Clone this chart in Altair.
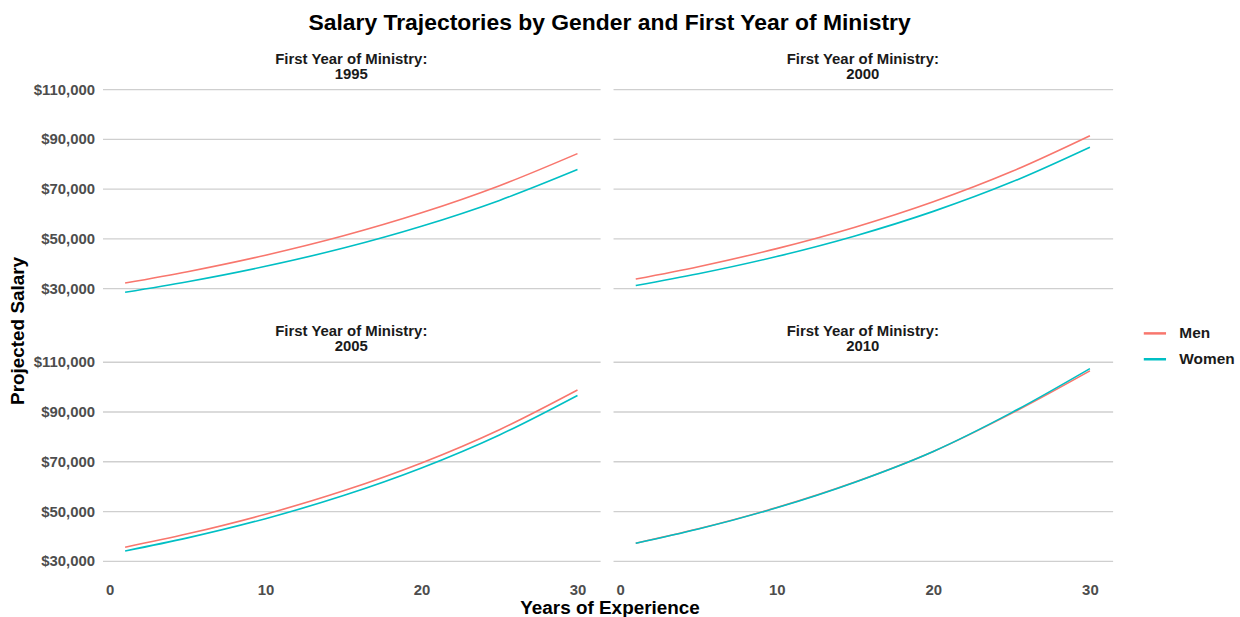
import altair as alt
import pandas as pd

years = [1, 5, 10, 15, 20, 25, 30]
cohorts = ["1995", "2000", "2005", "2010"]
genders = ["Men", "Women"]

men_1995 = [32100, 36650, 43270, 51070, 60300, 71200, 84100]
women_1995 = [28400, 32630, 38820, 46160, 54920, 65310, 77700]
men_2000 = [33700, 38670, 45920, 54530, 64750, 76890, 91300]
women_2000 = [31100, 35820, 42750, 51020, 60890, 72660, 86700]
men_2005 = [35500, 40880, 48760, 58160, 69370, 82750, 98700]
women_2005 = [34000, 39260, 46990, 56260, 67340, 80610, 96500]
men_2010 = [37100, 42900, 51450, 61700, 73990, 89300, 106400]
women_2010 = [37100, 42800, 51350, 61650, 74000, 89600, 107300]

y_ticks = [30000, 50000, 70000, 90000, 110000]
x_ticks = [0, 10, 20, 30]

series = {
    ("1995", "Men"): men_1995, ("1995", "Women"): women_1995,
    ("2000", "Men"): men_2000, ("2000", "Women"): women_2000,
    ("2005", "Men"): men_2005, ("2005", "Women"): women_2005,
    ("2010", "Men"): men_2010, ("2010", "Women"): women_2010,
}
rows = []
for (c, g), vals in series.items():
    for yr, v in zip(years, vals):
        rows.append({"cohort": c, "gender": g, "year": yr, "salary": v})
df = pd.DataFrame(rows)

FONT = "Liberation Sans"
LABEL_GRAY = "#4d4d4d"
H = 217


def panel(cohort, show_y, show_x, width, title_offset):
    if show_x:
        xaxis = alt.Axis(values=x_ticks, grid=False, format="d", title=None)
    else:
        xaxis = None
    if show_y:
        yaxis = alt.Axis(values=y_ticks, format="$,.0f", grid=True, title=None)
    else:
        yaxis = alt.Axis(values=y_ticks, grid=True, labels=False, title=None)
    return alt.Chart(df).transform_filter(
        alt.datum.cohort == cohort
    ).mark_line(strokeWidth=1.6, interpolate="monotone").encode(
        x=alt.X("year:Q", scale=alt.Scale(domain=[-0.45, 31.45], nice=False, zero=False),
                axis=xaxis),
        y=alt.Y("salary:Q", scale=alt.Scale(domain=[24455, 111245], nice=False, zero=False),
                axis=yaxis),
        color=alt.Color("gender:N", title=None,
                        scale=alt.Scale(domain=genders, range=["#F8766D", "#00BFC4"]),
                        legend=alt.Legend(symbolType="stroke", symbolStrokeWidth=2.5,
                                          symbolSize=500, labelFontSize=15.5,
                                          labelFontWeight="bold", labelColor="#1a1a1a",
                                          labelFont=FONT, rowPadding=5, labelOffset=12,
                                          orient="none", legendX=1140, legendY=236)),
    ).properties(
        width=width, height=H,
        title=alt.Title(["First Year of Ministry:", cohort], fontSize=15, fontWeight="bold",
                        font=FONT, color="#1a1a1a", lineHeight=15, offset=title_offset,
                        anchor="middle"),
    )


ytitle = alt.Chart(pd.DataFrame({"t": ["Projected Salary"]})).mark_text(
    angle=270, font=FONT, fontSize=19, fontWeight="bold", color="#000000",
    align="center", baseline="middle",
).encode(text="t:N", x=alt.value(10), y=alt.value(246)).properties(width=20, height=500)

xtitle = alt.Chart(pd.DataFrame({"t": ["Years of Experience"]})).mark_text(
    font=FONT, fontSize=19, fontWeight="bold", color="#000000",
    align="center", baseline="middle",
).encode(text="t:N", x=alt.value(510), y=alt.value(9)).properties(width=1000, height=18)

row1 = alt.hconcat(panel("1995", True, False, 500, 0.5), panel("2000", False, False, 502, 4.5), spacing=13)
row2 = alt.hconcat(panel("2005", True, True, 500, 0.5), panel("2010", False, True, 502, 4.5), spacing=13)
plots = alt.vconcat(row1, row2, spacing=22)
grid = alt.vconcat(plots, xtitle, spacing=1)

chart = alt.hconcat(ytitle, grid, spacing=5).properties(
    title=alt.Title("Salary Trajectories by Gender and First Year of Ministry",
                    fontSize=23, fontWeight="bold", font=FONT, color="#000000",
                    anchor="middle", offset=17, dx=-12),
    padding={"left": 8, "top": 10, "right": 5, "bottom": 0},
).configure_axis(
    domain=False, ticks=False,
    labelFont=FONT, labelFontSize=15, labelFontWeight="bold", labelColor=LABEL_GRAY,
    labelPadding=8,
    gridColor="#cfcfcf", gridWidth=1.3,
).configure_view(stroke=None)

chart.save("out.html", embed_options={"renderer": "svg", "actions": False})
